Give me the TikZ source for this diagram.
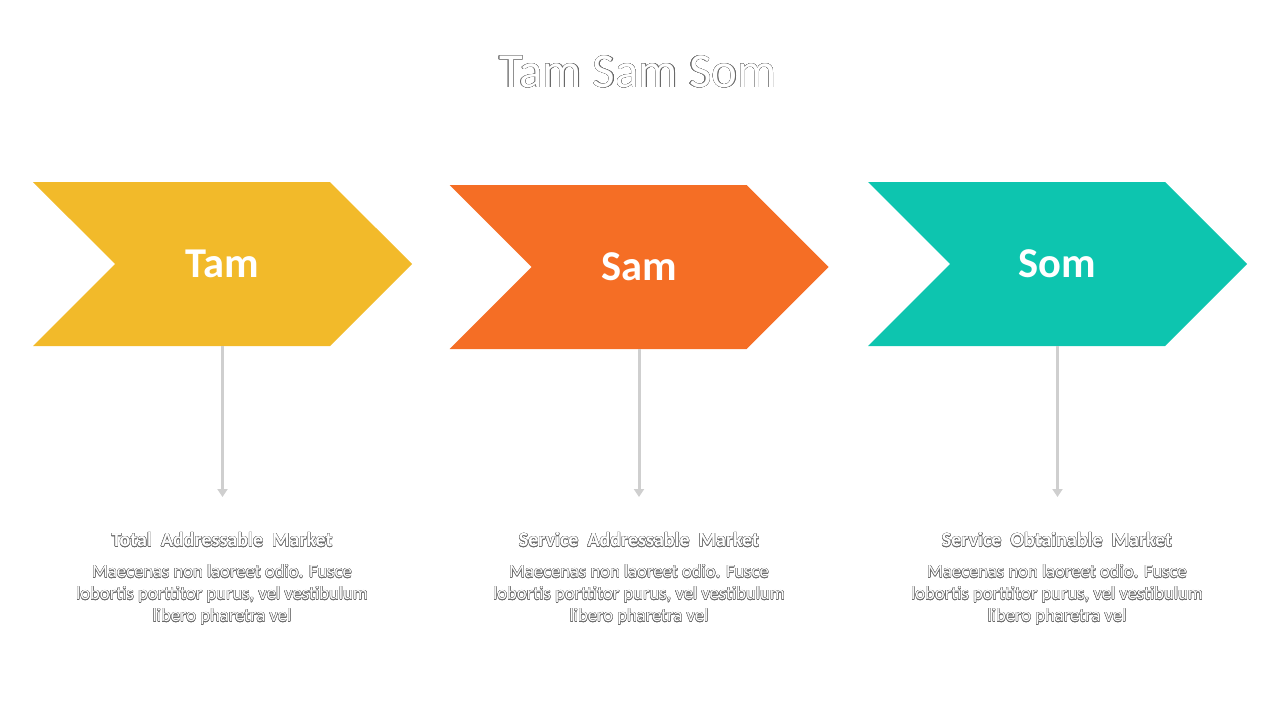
\documentclass[tikz,border=0pt]{standalone}
\usepackage{fontspec}
\setmainfont{Carlito}
\usepackage{contour}
\usetikzlibrary{arrows.meta,shapes.symbols}
\definecolor{tamyellow}{RGB}{242,186,42}
\definecolor{samorange}{RGB}{245,110,37}
\definecolor{somteal}{RGB}{13,197,175}
\definecolor{stemgray}{RGB}{207,207,207}
\definecolor{edgegray}{RGB}{105,105,105}
\contourlength{0.35pt}
\contournumber{16}
\newcommand{\outl}[1]{\contour{edgegray}{#1}}

\begin{document}
\begin{tikzpicture}[x=1pt,y=-1pt]
\tikzset{
  chevron/.style={signal,signal from=west,signal to=east,signal pointer angle=90,
    minimum width=379pt,minimum height=164pt,inner sep=0pt,text=white,
    font=\fontsize{42.5}{46}\selectfont\bfseries},
  stem/.style={-{Triangle[length=8pt,width=10pt]},line width=3pt,draw=stemgray},
  heading/.style={text=white,font=\fontsize{20}{24}\selectfont\bfseries,align=center},
  blurb/.style={text=white,font=\fontsize{18.6}{22}\selectfont,align=center}
}
\useasboundingbox (0,0) rectangle (1280,720);
\node[text=white,font=\fontsize{49}{54}\selectfont] (n_title) at (638,72) {\outl{Tam Sam Som}};
\node[chevron,fill=tamyellow] (n_tam) at (222.5,264) {Tam};
\node[chevron,fill=samorange] (n_sam) at (639,267) {Sam};
\node[chevron,fill=somteal] (n_som) at (1057.5,264) {Som};
\coordinate (e_tam) at (222.5,497);
\coordinate (e_sam) at (639,497);
\coordinate (e_som) at (1057.5,497);
\draw[stem] (n_tam.south) -- (e_tam);
\draw[stem] (n_sam.south) -- (e_sam);
\draw[stem] (n_som.south) -- (e_som);
\node[heading] (h_tam) at (222,540) {\outl{Total\ \ Addressable\ \ Market}};
\node[heading] (h_sam) at (639,540) {\outl{Service\ \ Addressable\ \ Market}};
\node[heading] (h_som) at (1057,540) {\outl{Service\ \ Obtainable\ \ Market}};
\node[blurb] (b_tam) at (222,595) {\outl{Maecenas non laoreet odio. Fusce}\\\outl{lobortis porttitor purus, vel vestibulum}\\\outl{libero pharetra vel}};
\node[blurb] (b_sam) at (639,595) {\outl{Maecenas non laoreet odio. Fusce}\\\outl{lobortis porttitor purus, vel vestibulum}\\\outl{libero pharetra vel}};
\node[blurb] (b_som) at (1057,595) {\outl{Maecenas non laoreet odio. Fusce}\\\outl{lobortis porttitor purus, vel vestibulum}\\\outl{libero pharetra vel}};
\end{tikzpicture}
\end{document}
